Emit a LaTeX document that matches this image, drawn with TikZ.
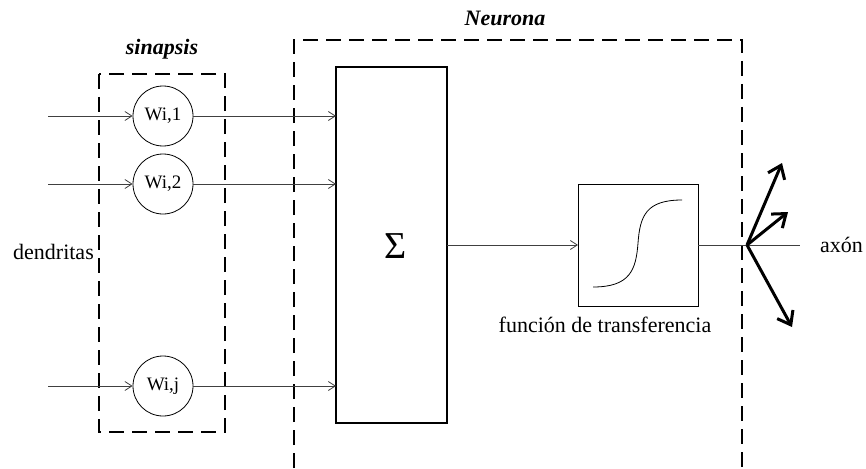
\documentclass[tikz,border=0pt]{standalone}
\usepackage{fontspec}
\setmainfont{Liberation Serif}
\usetikzlibrary{arrows.meta}
\tikzset{
  dashbox/.style={line width=2pt, dash pattern=on 15pt off 8pt},
  thin arrow/.style={line width=0.8pt, draw=black!75, -{Straight Barb[length=7pt,width=9pt,line width=0.8pt]}},
  thin line/.style={line width=0.8pt, draw=black!75},
  weight/.style={circle, draw, line width=0.8pt, minimum size=60pt, inner sep=0pt, font=\fontsize{19}{22}\selectfont},
  bigtext/.style={font=\fontsize{22}{26}\selectfont, inner sep=0pt},
  titletext/.style={font=\fontsize{22}{26}\selectfont\bfseries\itshape, inner sep=0pt},
  thick arrow/.style={line width=3pt, -{Straight Barb[length=12pt,width=18pt,line width=3pt]}}
}
\begin{document}
\begin{tikzpicture}[x=1pt,y=-1pt]
\useasboundingbox (0,0) rectangle (866,468);
% boxes
\draw[dashbox] (99,74) rectangle (225,432);
\draw[dashbox] (294,468) -- (294,40) -- (742,40) -- (742,468);
\node[titletext] (sin) at (162,49) {sinapsis};
\node[titletext] (neu) at (505,18) {Neurona};
% weights
\node[weight] (w1) at (163,116) {Wi,1};
\node[weight] (w2) at (163,184) {Wi,2};
\node[weight] (wj) at (163,386) {Wi,j};
% sum
\node[draw, line width=1.5pt, minimum width=111pt, minimum height=356pt, inner sep=0pt, outer sep=0pt] (sum) at (391.5,245) {};
\node[font=\fontsize{38}{42}\selectfont, inner sep=0pt] (sig) at (396,246) {Σ};
% transfer
\node[draw, line width=0.8pt, minimum width=120pt, minimum height=122pt, inner sep=0pt, outer sep=0pt] (tf) at (638,245) {};
\draw[line width=0.8pt] (593,287) .. controls (630,287) and (636,270) .. (638,243)
  .. controls (640,216) and (646,200) .. (682,200);
\node[bigtext] (tft) at (605,325) {función de transferencia};
% inputs
\coordinate (i1) at (48,116);
\coordinate (i2) at (48,184);
\coordinate (ij) at (48,386);
\draw[thin arrow] (i1) -- (w1.west);
\draw[thin arrow] (i2) -- (w2.west);
\draw[thin arrow] (ij) -- (wj.west);
\draw[thin arrow] (w1.east) -- (w1.east -| sum.west);
\draw[thin arrow] (w2.east) -- (w2.east -| sum.west);
\draw[thin arrow] (wj.east) -- (wj.east -| sum.west);
\node[bigtext, anchor=east] (den) at (94,252) {dendritas};
% sum to transfer
\draw[thin arrow] (sum.east |- tf.west) -- (tf.west);
% axon
\coordinate (j) at (747,245);
\coordinate (ax) at (800,245);
\draw[thin line] (tf.east) -- (ax);
\node[bigtext, anchor=west] (axt) at (820,245) {axón};
\coordinate (b1) at (782,163);
\coordinate (b2) at (788,212);
\coordinate (b3) at (792,327);
\draw[thick arrow] (j) -- (b1);
\draw[thick arrow] (j) -- (b2);
\draw[thick arrow] (j) -- (b3);
\end{tikzpicture}
\end{document}
